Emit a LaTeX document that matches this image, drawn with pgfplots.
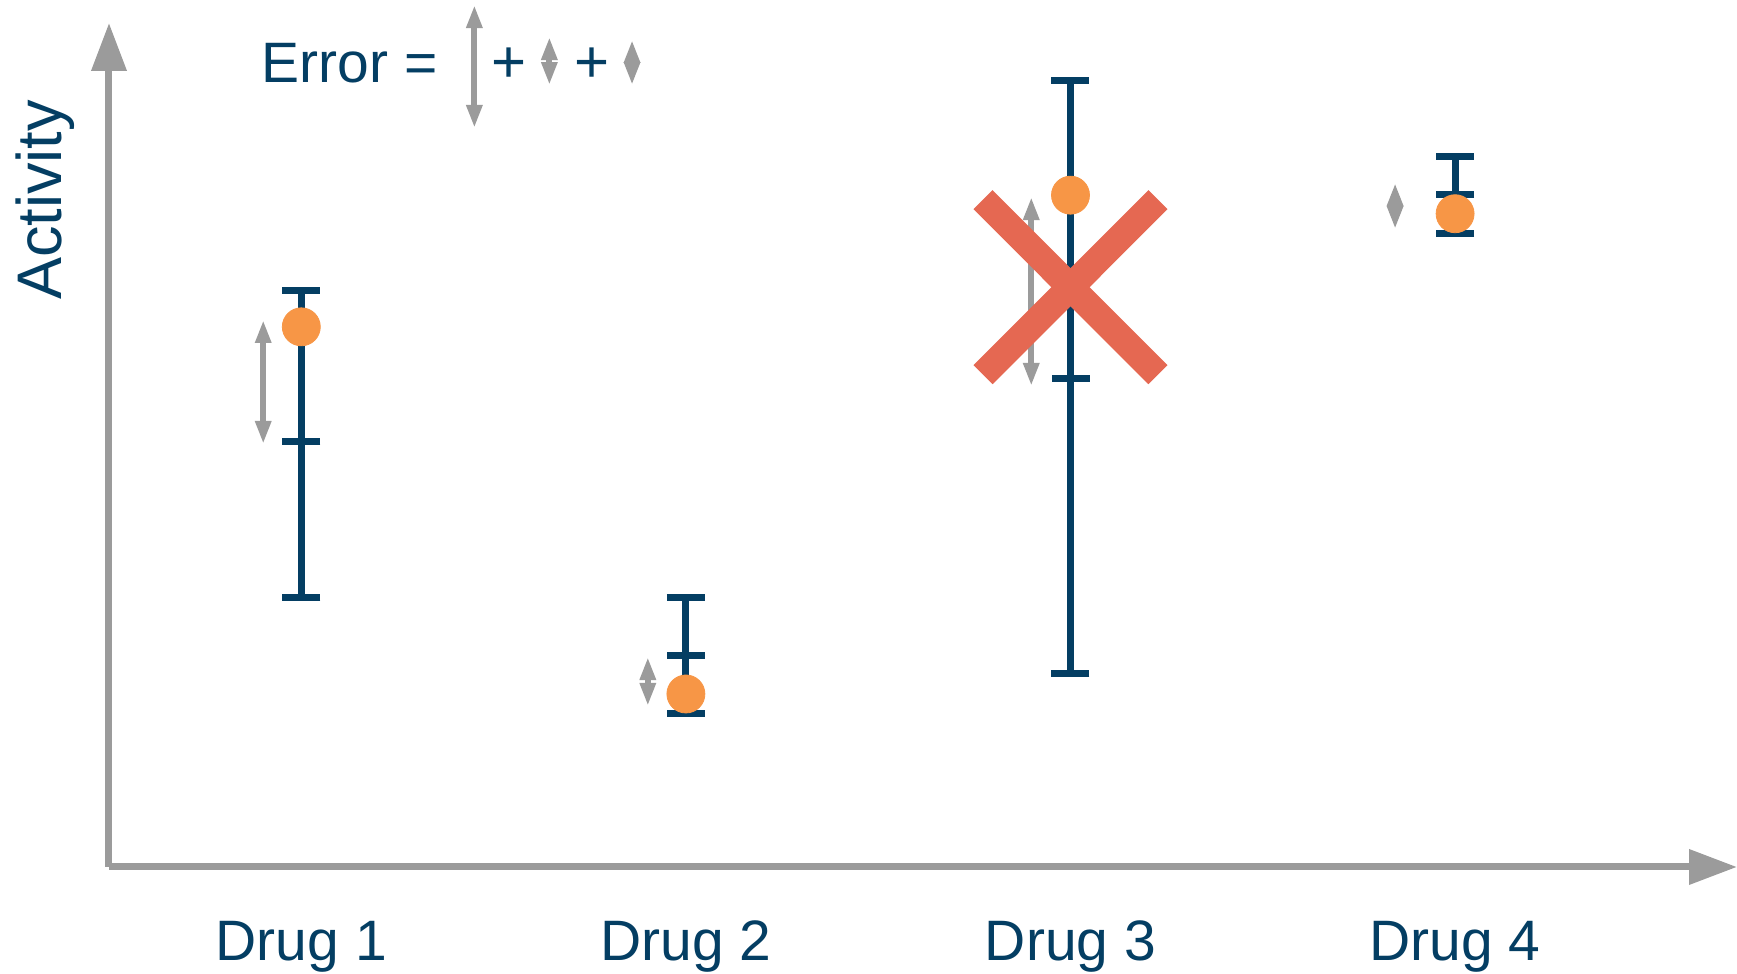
\documentclass[border=0pt]{standalone}
\usepackage{fontspec}
\setmainfont{Liberation Sans}
\usepackage{pgfplots}
\pgfplotsset{compat=1.18}
\usetikzlibrary{arrows.meta}
\definecolor{navy}{RGB}{4,62,99}
\definecolor{dot}{RGB}{247,150,70}
\definecolor{cross}{RGB}{229,104,82}
\definecolor{arrowgray}{RGB}{155,155,155}
\tikzset{gap/.style={arrowgray, line width=3pt,
  {Triangle[length=11.5pt,width=7.5pt]}-{Triangle[length=11.5pt,width=7.5pt]}}}
\begin{document}
\begin{tikzpicture}
\begin{axis}[
    scale only axis,
    width=814pt, height=422pt,
    xmin=0.5, xmax=4.733, ymin=0, ymax=100,
    enlargelimits=false,
    clip=false,
    axis lines=left,
    axis line style={arrowgray, line width=3.5pt, -{Triangle[length=24pt,width=17pt]}},
    major tick length=0pt,
    xtick={1,2,3,4},
    xticklabels={Drug 1,Drug 2,Drug 3,Drug 4},
    xticklabel style={anchor=base, yshift=-47pt, text=navy, font=\fontsize{28.5}{34}\selectfont},
    ytick=\empty,
    ylabel={Activity},
    ylabel style={at={(rel axis cs:-0.0289,0.790)}, anchor=base, rotate=0, text=navy, font=\fontsize{31.5}{38}\selectfont},
]
% mean tick and error bars
\addplot[navy, only marks, mark=-, mark size=9.5pt, mark options={line width=3.5pt},
  error bars/.cd, y dir=both, y explicit,
  error bar style={line width=3.5pt, navy},
  error mark options={rotate=90, line width=3.5pt, mark size=9.5pt, navy}]
  coordinates {
    (1,50.4) += (0,17.9) -= (0,18.5)
    (2,25.0) += (0,6.9)  -= (0,6.8)
    (3,57.9) += (0,35.3) -= (0,35.0)
    (4,79.7) += (0,4.5)  -= (0,4.6)
  };
% measured points
\addplot[only marks, mark=*, mark size=9.5pt, mark options={fill=dot, draw=dot}]
  coordinates {(1,64.0) (2,20.5) (3,79.6) (4,77.4)};
% gaps between point and mean
\addplot[gap] coordinates {(0.901,64.81) (0.901,50.12)};
\addplot[gap] coordinates {(1.901,24.88) (1.901,19.08)};
\addplot[gap] coordinates {(2.898,79.38) (2.898,56.99)};
\addplot[gap] coordinates {(3.844,81.04) (3.844,75.59)};
% legend of the error
\addplot[gap] coordinates {(1.450,87.56) (1.450,102.13)};
\addplot[gap] coordinates {(1.645,92.65) (1.645,98.34)};
\addplot[gap] coordinates {(1.860,92.65) (1.860,97.99)};
\node[anchor=base west, text=navy, font=\fontsize{28.5}{34}\selectfont, inner sep=0pt]
  at (axis cs:0.896,92.9) {Error =};
\node[anchor=base, text=navy, font=\fontsize{30}{34}\selectfont, inner sep=0pt]
  at (axis cs:1.540,92.9) {+};
\node[anchor=base, text=navy, font=\fontsize{30}{34}\selectfont, inner sep=0pt]
  at (axis cs:1.756,92.9) {+};
% rejected drug
\addplot[cross, line width=13.5pt] coordinates {(2.7725,79.07) (3.2275,58.33)};
\addplot[cross, line width=13.5pt] coordinates {(2.7725,58.33) (3.2275,79.07)};
\end{axis}
\pgfresetboundingbox
\path[use as bounding box] (-54.5pt,-53.5pt) rectangle (814pt,433.5pt);
\end{tikzpicture}
\end{document}
